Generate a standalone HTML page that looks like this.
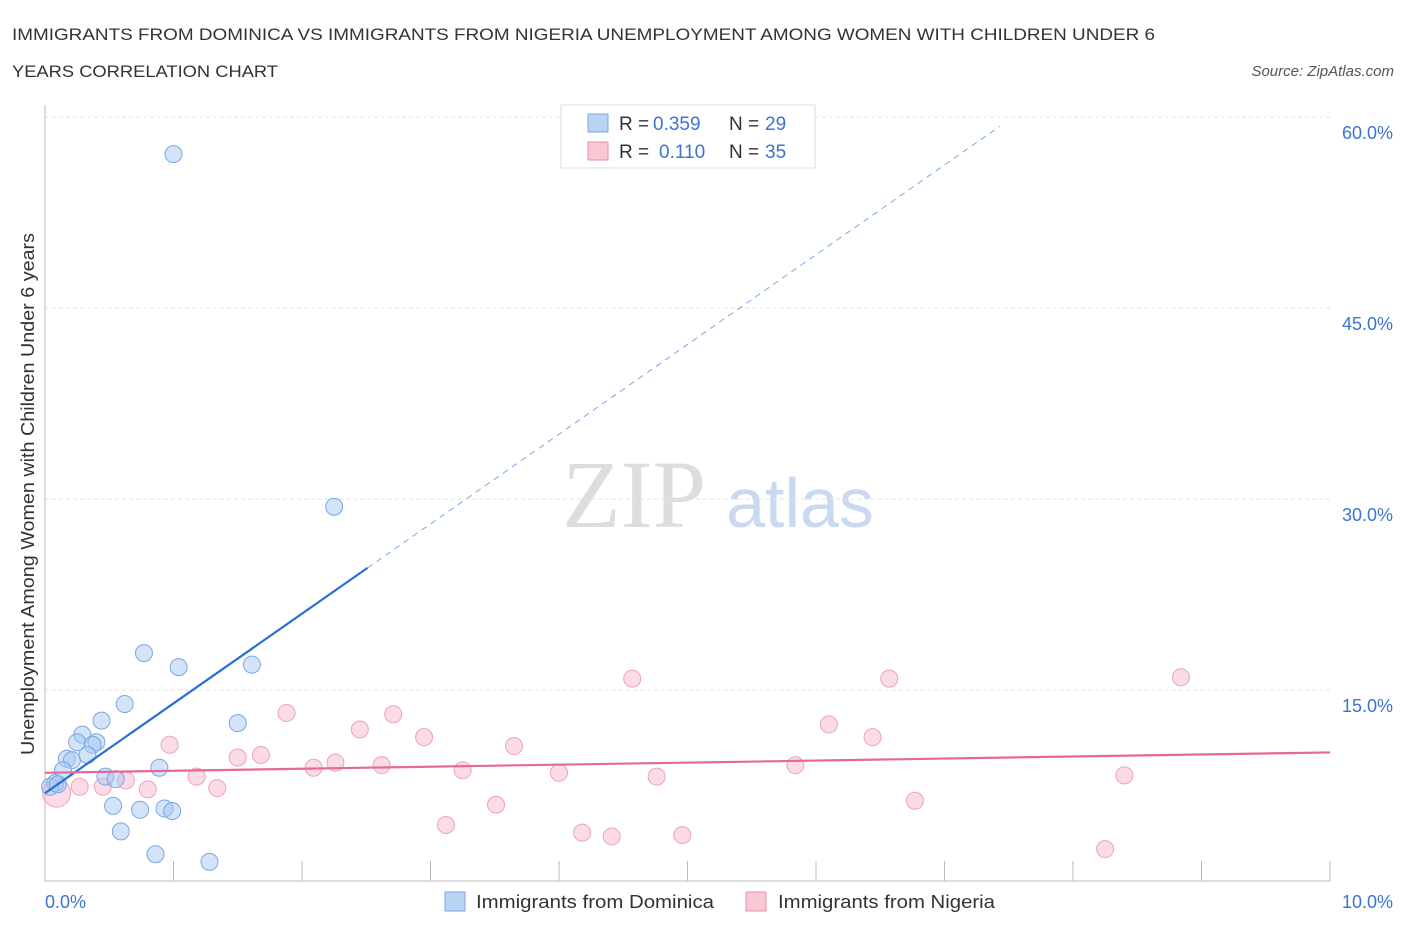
<!DOCTYPE html>
<html><head><meta charset="utf-8"><style>
body{margin:0;background:#fff;font-family:"Liberation Sans",sans-serif;}
</style></head><body>
<svg id="chart" width="1406" height="930" xmlns="http://www.w3.org/2000/svg" font-family="Liberation Sans, sans-serif">
<text x="12" y="40" font-size="17" fill="#333" textLength="1143" lengthAdjust="spacingAndGlyphs">IMMIGRANTS FROM DOMINICA VS IMMIGRANTS FROM NIGERIA UNEMPLOYMENT AMONG WOMEN WITH CHILDREN UNDER 6</text>
<text x="12" y="77" font-size="17" fill="#333" textLength="266" lengthAdjust="spacingAndGlyphs">YEARS CORRELATION CHART</text>
<text x="1394" y="76" font-size="15" fill="#555" font-style="italic" text-anchor="end">Source: ZipAtlas.com</text>
<text x="634" y="527" font-size="96" fill="#ddd" font-family="Liberation Serif, serif" text-anchor="middle">ZIP</text>
<text x="800" y="527" font-size="70" fill="#c9d9ef" text-anchor="middle">atlas</text>
<g id="grid"></g><g id="marks"></g>
<text transform="translate(34,494) rotate(-90)" font-size="18" fill="#333" text-anchor="middle" textLength="522" lengthAdjust="spacingAndGlyphs">Unemployment Among Women with Children Under 6 years</text>
<g>
<rect x="561" y="105" width="254" height="63" fill="#fff" stroke="#ddd"/>
<rect x="588" y="114" width="20" height="18" fill="#b9d3f5" stroke="#7aa7e6"/>
<text x="619" y="130" font-size="19" fill="#333">R =</text>
<text x="653" y="130" font-size="19" fill="#3b74d1">0.359</text>
<text x="729" y="130" font-size="19" fill="#333">N =</text>
<text x="765" y="130" font-size="19" fill="#3b74d1">29</text>
<rect x="588" y="142" width="20" height="18" fill="#f9c6d4" stroke="#ec8fae"/>
<text x="619" y="158" font-size="19" fill="#333">R =</text>
<text x="659" y="158" font-size="19" fill="#3b74d1">0.110</text>
<text x="729" y="158" font-size="19" fill="#333">N =</text>
<text x="765" y="158" font-size="19" fill="#3b74d1">35</text>
</g>
<g>
<rect x="445" y="892" width="20" height="19" fill="#b9d3f5" stroke="#7aa7e6"/>
<text x="476" y="908" font-size="18" fill="#333" textLength="238" lengthAdjust="spacingAndGlyphs">Immigrants from Dominica</text>
<rect x="746" y="892" width="20" height="19" fill="#f9c6d4" stroke="#ec8fae"/>
<text x="778" y="908" font-size="18" fill="#333" textLength="217" lengthAdjust="spacingAndGlyphs">Immigrants from Nigeria</text>
</g>
</svg>
<script>
const yTicks=[15,30,45,60];
const yTickLabels=["15.0%","30.0%","45.0%","60.0%"];
const blueX=[1.0,2.25,0.77,1.04,1.61,0.62,0.44,1.5,0.29,0.25,0.4,0.37,0.17,0.21,0.33,0.14,0.47,0.55,0.89,0.08,0.04,0.53,0.74,0.93,0.99,0.59,0.86,1.28,0.1];
const blueY=[57.1,29.4,17.9,16.8,17.0,13.9,12.6,12.4,11.5,10.9,10.9,10.7,9.6,9.5,9.9,8.7,8.2,8.0,8.9,7.7,7.4,5.9,5.6,5.7,5.5,3.9,2.1,1.5,7.6];
const pinkX=[0.09,0.27,0.45,0.63,0.8,0.97,1.18,1.34,1.5,1.68,1.88,2.09,2.26,2.45,2.62,2.71,2.95,3.12,3.25,3.51,3.65,4.0,4.18,4.41,4.57,4.76,4.96,5.84,6.1,6.44,6.57,6.77,8.25,8.4,8.84];
const pinkY=[6.9,7.4,7.4,7.9,7.2,10.7,8.2,7.3,9.7,9.9,13.2,8.9,9.3,11.9,9.1,13.1,11.3,4.4,8.7,6.0,10.6,8.5,3.8,3.5,15.9,8.2,3.6,9.1,12.3,11.3,15.9,6.3,2.5,8.3,16.0];
const blueTrend=[6.9,7.05];
const pinkTrend=[8.5,0.16];
const X=v=>45+v*128.5, Y=v=>881-v*12.73;
const NS="http://www.w3.org/2000/svg";
const grid=document.getElementById('grid'), marks=document.getElementById('marks');
function mk(tag,attrs,parent){const e=document.createElementNS(NS,tag);for(const k in attrs)e.setAttribute(k,attrs[k]);parent.appendChild(e);return e;}
yTicks.forEach((t,i)=>{
 const l=mk('line',{x1:45,x2:1330,y1:Y(t),y2:Y(t),stroke:'#e4e4e4','stroke-dasharray':'4,3'},grid);
 
 
 const tx=mk('text',{x:1393,y:Y(t)+22,'font-size':18,fill:'#3b74d1','text-anchor':'end'},grid);
 tx.textContent=yTickLabels[i];
 
 
});
const ax=mk('line',{x1:45,x2:1330,y1:881,y2:881,stroke:'#bbb'},grid);


const ay=mk('line',{x1:45,x2:45,y1:105,y2:881,stroke:'#bbb'},grid);


for(let i=1;i<=10;i++){const t=mk('line',{x1:X(i),x2:X(i),y1:861,y2:881,stroke:'#bbb'},grid);
 
 }
[[0,"0.0%","start",45],[10,"10.0%","end",1393]].forEach(a=>{const t=mk('text',{x:a[3],y:908,'font-size':18,fill:'#3b74d1','text-anchor':a[2]},grid);t.textContent=a[1];
 
 });
pinkX.forEach((x,i)=>{const c=mk('circle',{cx:X(x),cy:Y(pinkY[i]),r:i==0?14:8.5,fill:'rgba(246,176,198,0.45)',stroke:'#eea3bb','stroke-width':1},marks);
 
 });
blueX.forEach((x,i)=>{const c=mk('circle',{cx:X(x),cy:Y(blueY[i]),r:8.5,fill:'rgba(168,200,242,0.5)',stroke:'#7aa7e6','stroke-width':1},marks);
 
 });
const b1=mk('line',{x1:X(0),y1:Y(blueTrend[0]),x2:X(2.51),y2:Y(blueTrend[0]+blueTrend[1]*2.51),stroke:'#2a6fd6','stroke-width':2.2},marks);


const b2=mk('line',{x1:X(2.51),y1:Y(blueTrend[0]+blueTrend[1]*2.51),x2:X(7.43),y2:Y(blueTrend[0]+blueTrend[1]*7.43),stroke:'#7aa7e6','stroke-width':1,'stroke-dasharray':'6,5'},marks);


const p1=mk('line',{x1:X(0),y1:Y(pinkTrend[0]),x2:X(10),y2:Y(pinkTrend[0]+pinkTrend[1]*10),stroke:'#e4699a','stroke-width':2.2},marks);


</script>
</body></html>
